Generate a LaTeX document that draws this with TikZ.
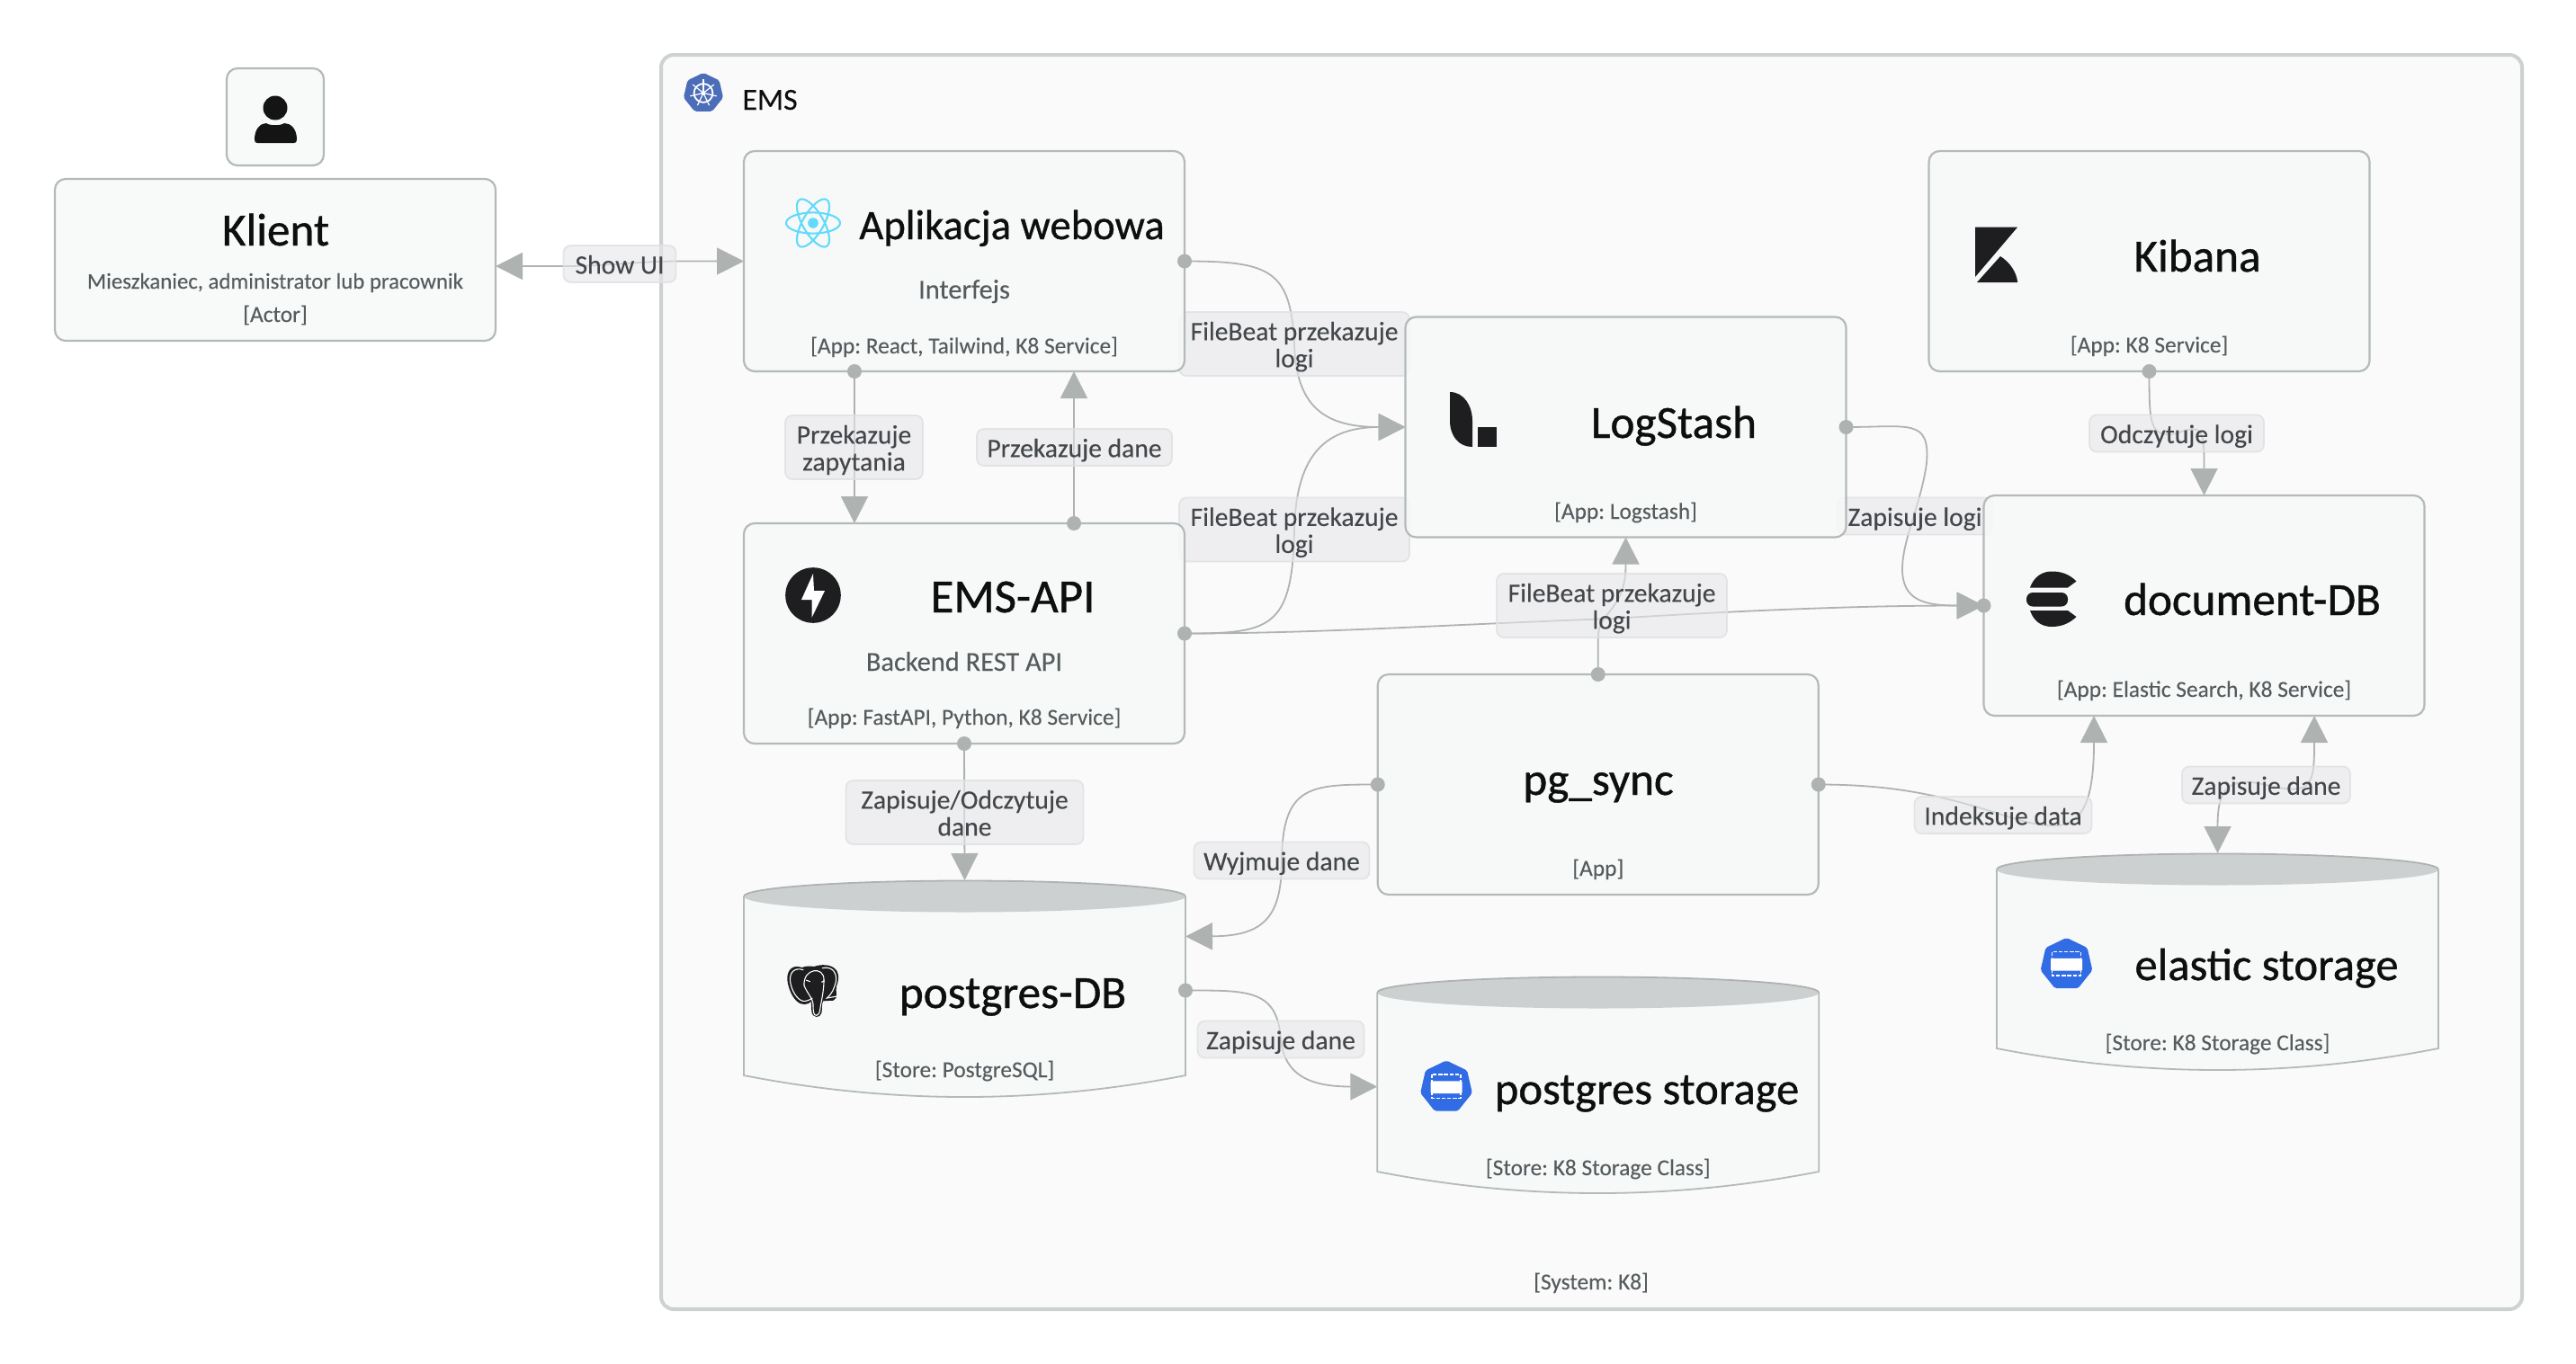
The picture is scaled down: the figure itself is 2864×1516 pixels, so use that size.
\documentclass[tikz,border=0pt]{standalone}
\usepackage{fontspec}
\setmainfont[FakeBold=.2]{Carlito}
\newfontfamily\ttlf[FakeBold=.8]{Carlito}
\usetikzlibrary{arrows.meta,calc,backgrounds}
\definecolor{pagewhite}{HTML}{FFFFFF}
\definecolor{sysfill}{HTML}{FAFAFA}
\definecolor{sysline}{HTML}{CDD1D1}
\definecolor{boxfill}{HTML}{F7F9F9}
\definecolor{boxline}{HTML}{B4B9B9}
\definecolor{conncol}{HTML}{AEB3B2}
\definecolor{lidfill}{HTML}{CCD0D1}
\definecolor{lidline}{HTML}{AEB3B2}
\definecolor{lblfill}{HTML}{E6E7EA}
\definecolor{lblline}{HTML}{DEE0E2}
\definecolor{lbltext}{HTML}{43474A}
\definecolor{subtext}{HTML}{565C5E}
\definecolor{titletext}{HTML}{0D0F0F}
\definecolor{icondark}{HTML}{1E1E20}
\definecolor{reactcol}{HTML}{61DAFB}
\definecolor{kubecol}{HTML}{4C6DB8}
\definecolor{storecol}{HTML}{326CE5}
\newcommand\ltop{\rule{0pt}{15.7pt}}
\newcommand\lbot{\rule[-4.8pt]{0pt}{4.8pt}}
\newcommand\cylbody[1]{%
  \fill[boxfill] ($(#1.north west)+(0,18)$) -- ($(#1.south west)+(0,-28)$)
    .. controls ($(#1.south west)+(163.7,4)$) and ($(#1.south east)+(-163.7,4)$) .. ($(#1.south east)+(0,-28)$)
    -- ($(#1.north east)+(0,18)$) -- cycle;
  \draw[cylline] ($(#1.north west)+(0,18)$) -- ($(#1.south west)+(0,-28)$)
    .. controls ($(#1.south west)+(163.7,4)$) and ($(#1.south east)+(-163.7,4)$) .. ($(#1.south east)+(0,-28)$)
    -- ($(#1.north east)+(0,18)$);
  \fill[lidfill] ($(#1.north)+(0,18)$) ellipse (122.75pt and 8.75pt);
  \draw[lidline,line width=.9pt] ($(#1.north west)+(0,18)$) arc[start angle=180,end angle=0,x radius=122.75pt,y radius=8.75pt];
}
\newcommand\heptagon[2]{%
  (90:#2) -- (141.43:#2) -- (192.86:#2) -- (244.29:#2) -- (295.71:#2) -- (347.14:#2) -- (38.57:#2) -- cycle
}
\newcommand\storeicon[2]{%
  \begin{scope}[shift={(#1,#2)}]
    \fill[storecol,rounded corners=1pt] \heptagon{}{14.8pt};
    \draw[white,line width=.6pt,dash pattern=on 2.2pt off .9pt] (-16,-14) rectangle (16,12.5);
    \fill[white,rounded corners=.5pt] (-17.5,-6.7) rectangle (17.5,7);
  \end{scope}
}
\tikzset{
  x=0.5pt,y=-0.5pt,
  sysbox/.style={draw=sysline,fill=sysfill,line width=2pt,rounded corners=7pt,minimum width=1034.5pt,minimum height=697.5pt,inner sep=0pt,outer sep=0pt},
  cbox/.style={draw=boxline,fill=boxfill,fill opacity=.85,line width=1.1pt,rounded corners=6pt,minimum width=245pt,minimum height=122.5pt,inner sep=0pt,outer sep=0pt},
  cylbox/.style={minimum width=245.5pt,minimum height=122.5pt,inner sep=0pt,outer sep=0pt},
  cylline/.style={draw=boxline,line width=.9pt,line join=miter},
  ttl/.style={anchor=base,inner sep=0pt,text=titletext,font=\ttlf\fontsize{25.6}{29}\selectfont},
  ttlsmall/.style={ttl,font=\ttlf\fontsize{23.3}{27}\selectfont},
  ttlwide/.style={ttl,font=\ttlf\fontsize{26.5}{30}\selectfont},
  ttlslim/.style={ttl,font=\ttlf\fontsize{25.3}{29}\selectfont},
  sub/.style={anchor=base,inner sep=0pt,text=subtext,font=\fontsize{12.7}{16}\selectfont\frenchspacing},
  subslim/.style={sub,font=\fontsize{12.4}{16}\selectfont\frenchspacing},
  desc/.style={sub,font=\fontsize{15.2}{18}\selectfont\frenchspacing},
  sysname/.style={anchor=base west,inner sep=0pt,text=titletext,font=\fontsize{17}{20}\selectfont},
  lbl/.style={draw=lblline,fill=lblfill,fill opacity=.6,text opacity=1,draw opacity=.8,line width=.9pt,rounded corners=4pt,inner sep=0pt,outer sep=0pt,text=lbltext,align=center,font=\fontsize{14.8}{15}\selectfont\frenchspacing},
  conn/.style={draw=conncol,line width=.9pt},
  tip/.style={-{Triangle[length=15pt,width=15pt]}},
  dot/.style={fill=conncol},
}
\pgfdeclarelayer{syslayer}
\pgfdeclarelayer{connlayer}
\pgfdeclarelayer{labels}
\pgfdeclarelayer{dots}
\pgfsetlayers{syslayer,connlayer,labels,main,dots}
\begin{document}
\begin{tikzpicture}
\useasboundingbox (0,0) rectangle (2864,1516);
\begin{pgfonlayer}{syslayer}
\fill[pagewhite] (0,0) rectangle (2864,1516);
% system boundary
\node[sysbox] (ems) at (1769.5,758.5) {};
\end{pgfonlayer}
\begin{scope}[shift={(782,103.5)}]
  \fill[kubecol,rounded corners=1pt] \heptagon{}{11.3pt};
  \draw[white,line width=.9pt] (0,0) circle (5.2pt);
  \fill[white] (0,0) circle (1.2pt);
  \foreach \a in {90,141.43,192.86,244.29,295.71,347.14,38.57}
    \draw[white,line width=.6pt] (0,0) -- (\a:7.6pt);
\end{scope}
\node[sysname] (ems-t) at (825,122) {EMS};
\node[sub] (ems-x) at (1769,1434) {[System: K8]};

% boxes
\node[cbox,minimum width=54pt,minimum height=54pt] (actor) at (306,130) {};
\node[cbox,minimum height=90pt] (klient) at (306,289) {};
\node[cbox] (aplik) at (1072,290.5) {};
\node[cbox] (api) at (1072,704.5) {};
\node[cbox] (logstash) at (1807.5,475) {};
\node[cbox] (kibana) at (2389.5,290.5) {};
\node[cbox] (docdb) at (2450.5,673.5) {};
\node[cbox] (pgsync) at (1776.75,872.5) {};
\node[cylbox] (pgdb) at (1072.5,1101.5) {};
\node[cylbox] (pgstore) at (1776.75,1208.5) {};
\node[cylbox] (elstore) at (2465.5,1071.5) {};
\cylbody{pgdb}
\cylbody{pgstore}
\cylbody{elstore}

% connector waypoints (label centres)
\coordinate (m-show) at (689,293.5);
\coordinate (m-web) at (1439,382.5);
\coordinate (m-api) at (1439,589);
\coordinate (m-doc) at (1792,688);
\coordinate (m-pgs) at (1792,673.5);
\coordinate (m-zl) at (2129,574);
\coordinate (m-kib) at (2420,482);
\coordinate (m-wyj) at (1425,957);
\coordinate (m-zap) at (1424,1156);
\coordinate (m-ind) at (2227,906.5);
\coordinate (m-el) at (2519.5,873);
\coordinate (aplik-s1) at ($(aplik.south)+(-122,0)$);
\coordinate (api-n1) at ($(api.north)+(-122,0)$);
\coordinate (aplik-s2) at ($(aplik.south)+(122,0)$);
\coordinate (api-n2) at ($(api.north)+(122,0)$);
\coordinate (doc-s1) at ($(docdb.south)+(-122.5,0)$);
\coordinate (doc-s2) at ($(docdb.south)+(122.5,0)$);
\coordinate (kl-e) at ($(klient.east)+(0,7)$);
\coordinate (pgdb-t) at ($(pgdb.north)+(0,0)$);
\coordinate (pgdb-a) at ($(pgdb.east)+(0,-60)$);

% connectors
\begin{pgfonlayer}{connlayer}
\draw[conn,{Triangle[length=15pt,width=15pt]}-{Triangle[length=15pt,width=15pt]}] (kl-e) -- ($(kl-e)+(75,0)$) .. controls (680,296) and (700,291) .. ($(aplik.west)+(-75,0)$) -- (aplik.west);
\draw[conn,tip] (aplik.east) .. controls +(95,0) and (1435,300) .. (m-web) .. controls (1441,450) and (1470,475) .. (logstash.west);
\draw[conn,tip] (api.east) .. controls +(95,0) and (1437,700) .. (m-api) .. controls (1441,510) and (1470,475) .. (logstash.west);
\draw[conn,tip] (api.east) .. controls +(150,0) and (1600,695) .. (m-doc) .. controls (1950,678) and (2080,673.5) .. (docdb.west);
\draw[conn,tip] (logstash.east) .. controls +(70,0) and (2146,465) .. (2142,515) .. controls (2136,560) and (2115,600) .. (2115,633) .. controls (2115,668) and (2140,673.5) .. (docdb.west);
\draw[conn,tip] (pgsync.north) -- ($(pgsync.north)+(0,-40)$) .. controls (1776,680) and (1807,680) .. ($(logstash.south)+(0,32)$) -- (logstash.south);
\draw[conn,tip] (kibana.south) .. controls +(0,60) and (2390,487) .. (m-kib) .. controls (2450,470) and (docdb.north|-480,480) .. ($(docdb.north)+(0,-30)$) -- (docdb.north);
\draw[conn,tip] (aplik-s1) -- (api-n1);
\draw[conn,tip] (api-n2) -- (aplik-s2);
\draw[conn,tip] (api.south) -- (pgdb-t);
\draw[conn,tip] (pgsync.west) .. controls +(-75,0) and (1426,873) .. (m-wyj) .. controls (1425,1020) and (1405,1041) .. (pgdb-a);
\draw[conn,tip] (pgdb.east) .. controls +(70,0) and (1420,1100) .. (m-zap) .. controls (1428,1195) and (1455,1208.5) .. (pgstore.west);
\draw[conn,tip] (pgsync.east) .. controls +(85,0) and (2160,885) .. (m-ind) .. controls (2295,928) and (2328,930) .. ($(doc-s1)+(0,30)$) -- (doc-s1);
\draw[conn,tip] (m-el) .. controls (2570,885) and (2573,875) .. ($(doc-s2)+(0,30)$) -- (doc-s2);
\draw[conn,tip] (m-el) .. controls (2475,862) and (2465.5,880) .. ($(elstore.north)+(0,-30)$) -- (elstore.north);
\end{pgfonlayer}

% connector origin dots
\begin{pgfonlayer}{dots}
\foreach \p in {aplik.east,api.east,logstash.east,pgsync.north,kibana.south,aplik-s1,api-n2,api.south,pgsync.west,pgdb.east,pgsync.east,docdb.west}
  \fill[dot] (\p) circle (4pt);
\end{pgfonlayer}

% labels
\begin{pgfonlayer}{labels}
\node[lbl,minimum width=62.5pt] (l-show) at (m-show) {\ltop Show UI\lbot};
\node[lbl,minimum width=128pt] (l-web) at (m-web) {\ltop FileBeat przekazuje\\logi\lbot};
\node[lbl,minimum width=128pt] (l-api) at (m-api) {\ltop FileBeat przekazuje\\logi\lbot};
\node[lbl,minimum width=128pt] (l-pgs) at (m-pgs) {\ltop FileBeat przekazuje\\logi\lbot};
\node[lbl,minimum width=86.5pt] (l-zl) at (m-zl) {\ltop Zapisuje logi\lbot};
\node[lbl,minimum width=97pt] (l-kib) at (m-kib) {\ltop Odczytuje logi\lbot};
\node[lbl,minimum width=76.5pt] (l-pz) at (949.5,497.5) {\ltop Przekazuje\\zapytania\lbot};
\node[lbl,minimum width=108.5pt] (l-pd) at (1194.5,497.5) {\ltop Przekazuje dane\lbot};
\node[lbl,minimum width=132pt] (l-zo) at (1072.5,903.5) {\ltop Zapisuje/Odczytuje\\dane\lbot};
\node[lbl,minimum width=97.5pt] (l-wyj) at (m-wyj) {\ltop Wyjmuje dane\lbot};
\node[lbl,minimum width=92.5pt] (l-zap) at (m-zap) {\ltop Zapisuje dane\lbot};
\node[lbl,minimum width=98.5pt] (l-ind) at (m-ind) {\ltop Indeksuje data\lbot};
\node[lbl,minimum width=93.5pt] (l-el) at (m-el) {\ltop Zapisuje dane\lbot};
\end{pgfonlayer}

% texts
\node[ttl] (klient-t) at (306.5,273) {Klient};
\node[subslim] (klient-d) at (306,321) {Mieszkaniec, administrator lub pracownik};
\node[sub] (klient-x) at (306,358) {[Actor]};
\node[ttlsmall] (aplik-t) at (1125,266) {Aplikacja webowa};
\node[desc] (aplik-d) at (1072,332) {Interfejs};
\node[sub] (aplik-x) at (1072,393) {[App: React, Tailwind, K8 Service]};
\node[ttlwide] (api-t) at (1126,681) {EMS-API};
\node[desc] (api-d) at (1072,746) {Backend REST API};
\node[sub] (api-x) at (1072,806) {[App: FastAPI, Python, K8 Service]};
\node[ttl] (log-t) at (1861,487) {LogStash};
\node[sub] (log-x) at (1807.5,577) {[App: Logstash]};
\node[ttl] (kib-t) at (2443,302) {Kibana};
\node[sub] (kib-x) at (2389.5,392) {[App: K8 Service]};
\node[ttl] (doc-t) at (2504,684) {document-DB};
\node[sub] (doc-x) at (2450.5,775) {[App: Elastic Search, K8 Service]};
\node[ttl] (pgs-t) at (1777,884) {pg\_sync};
\node[sub] (pgs-x) at (1776.75,974) {[App]};
\node[ttl] (pgdb-tt) at (1126,1121) {postgres-DB};
\node[sub] (pgdb-x) at (1072.5,1198) {[Store: PostgreSQL]};
\node[ttlslim] (pgst-t) at (1831,1228) {postgres storage};
\node[sub] (pgst-x) at (1776.75,1307) {[Store: K8 Storage Class]};
\node[ttlslim] (elst-t) at (2520,1090) {elastic storage};
\node[sub] (elst-x) at (2465.5,1168) {[Store: K8 Storage Class]};

% person icon
\fill[black!92] (306,120) ellipse (6.75pt and 6.75pt);
\fill[black!92] (283,155) .. controls (283,143) and (290,137) .. (296,137) .. controls (300,140) and (312,140) .. (316,137) .. controls (323,137) and (330,143) .. (330,155) .. controls (330,158) and (329,159) .. (327,159) -- (286,159) .. controls (284,159) and (283,158) .. (283,155) -- cycle;

% react icon
\begin{scope}[shift={(904,248)}]
  \foreach \r in {0,60,120}
    \draw[reactcol,line width=1.05pt,rotate=\r] (0,0) ellipse (15pt and 5.8pt);
  \fill[reactcol] (0,0) circle (2.9pt);
\end{scope}

% fastapi icon
\fill[icondark] (904,662) circle (15.4pt);
\fill[white] (904,638) -- (891,667) -- (902.5,667) -- (902.5,687) -- (917,657) -- (905,657) -- cycle;

% logstash icon
\fill[icondark] (1612,436) .. controls (1628,436) and (1637,452) .. (1637,468) -- (1637,497) .. controls (1622,497) and (1612,485) .. (1612,468) -- cycle;
\fill[icondark] (1643,475) rectangle (1664,497);

% kibana icon
\fill[icondark] (2196,252.5) -- (2243.2,252.5) -- (2196,308) -- cycle;
\fill[icondark] (2198,314) -- (2224,285) .. controls (2235,292) and (2242,303) .. (2243.2,314) -- cycle;

% elastic icon
\fill[icondark] (2257,653.5) .. controls (2261,642) and (2270,635.5) .. (2281,635.5) .. controls (2291,635.5) and (2300,638) .. (2308.5,646.5) -- (2299,653.5) -- cycle;
\fill[icondark,rounded corners=3.5pt] (2253,659) rectangle (2299,674.5);
\fill[icondark] (2257,679) .. controls (2261,691) and (2270,697) .. (2281,697) .. controls (2291,697) and (2300,694) .. (2308.5,686) -- (2299,679) -- cycle;

% postgres icon
\begin{scope}[shift={(860,1060)},x=.1667pt,y=-.1667pt]
  \fill[icondark] (95,48) .. controls (60,36) and (44,60) .. (46,90) .. controls (50,125) and (70,165) .. (95,170) .. controls (110,172) and (122,168) .. (125,160) -- (127,195) .. controls (130,218) and (155,218) .. (160,200) .. controls (163,185) and (160,172) .. (165,160) -- (200,158) .. controls (218,150) and (205,125) .. (210,110) .. controls (222,80) and (215,60) .. (205,52) .. controls (190,38) and (160,36) .. (135,45) .. controls (120,42) and (105,44) .. (95,48) -- cycle;
  \draw[white,line width=.55pt] (100,56) .. controls (68,46) and (52,66) .. (56,96) .. controls (60,125) and (78,155) .. (98,160) .. controls (110,162) and (122,155) .. (130,150);
  \draw[white,line width=.55pt] (102,108) .. controls (98,50) and (170,42) .. (168,90) .. controls (168,120) and (162,150) .. (157,175) .. controls (155,185) and (156,205) .. (143,208) .. controls (133,208) and (132,195) .. (132,170) .. controls (130,150) and (110,130) .. (102,108);
  \draw[white,line width=.55pt] (162,50) .. controls (200,42) and (212,70) .. (208,95) .. controls (202,120) and (195,135) .. (178,150) -- (212,144);
  \draw[white,line width=.55pt] (108,90) -- (122,95);
  \draw[white,line width=.55pt] (170,92) -- (160,97);
\end{scope}

% storage icons
\storeicon{1608}{1209}
\storeicon{2297.5}{1072.5}
\end{tikzpicture}
\end{document}
